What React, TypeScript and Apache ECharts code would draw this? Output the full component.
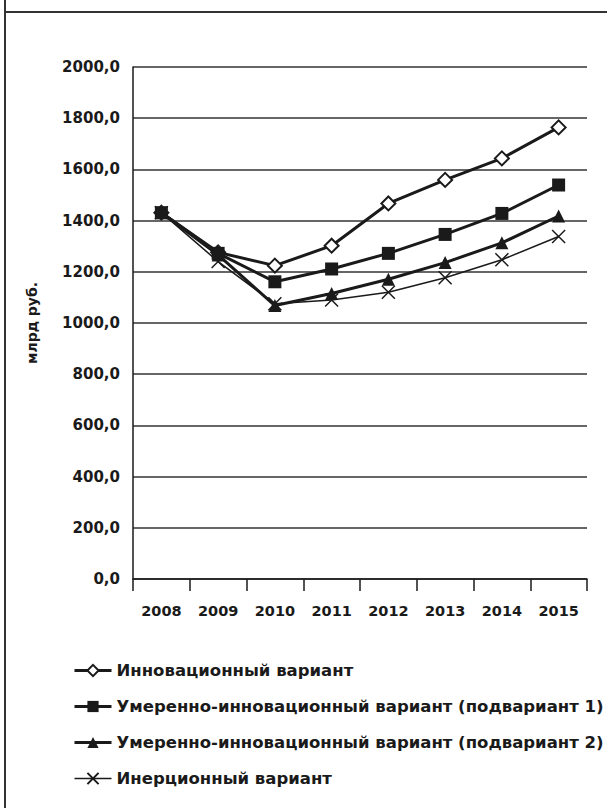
import React, { useEffect, useRef } from "react";
import * as echarts from "echarts";

const years = ["2008", "2009", "2010", "2011", "2012", "2013", "2014", "2015"];
const innovative = [1431, 1276, 1224, 1302, 1467, 1559, 1643, 1764];
const moderate1 = [1431, 1272, 1161, 1211, 1272, 1346, 1428, 1539];
const moderate2 = [1431, 1266, 1068, 1115, 1171, 1236, 1313, 1418];
const inertial = [1431, 1240, 1075, 1090, 1120, 1177, 1247, 1338];
const seriesNames = [
  "Инновационный вариант",
  "Умеренно-инновационный вариант (подвариант 1)",
  "Умеренно-инновационный вариант (подвариант 2)",
  "Инерционный вариант",
];
const yAxisName = "млрд руб.";

const FONT = "DejaVu Sans";
const INK = "#1a1a1a";

export default function App() {
  const ref = useRef<HTMLDivElement>(null);
  useEffect(() => {
    if (!ref.current) return;
    const chart = echarts.init(ref.current, null, { renderer: "svg" });
    chart.setOption({
      animation: false,
      backgroundColor: "#fff",
      textStyle: { fontFamily: FONT },
      grid: { left: 133, right: 20, top: 67, bottom: 229, containLabel: false },
      graphic: [
        { type: "line", shape: { x1: 5, y1: 0, x2: 5, y2: 808 }, style: { stroke: "#333", lineWidth: 2 } },
        { type: "line", shape: { x1: 5, y1: 12, x2: 607, y2: 12 }, style: { stroke: "#333", lineWidth: 2 } },
      ],
      xAxis: {
        type: "category",
        data: years,
        boundaryGap: true,
        axisLine: { lineStyle: { color: INK, width: 1.5 } },
        axisTick: { show: true, length: 12, inside: false, lineStyle: { color: INK, width: 1.5 } },
        axisLabel: { color: INK, fontWeight: "bold", fontSize: 14.5, margin: 24, fontFamily: FONT },
      },
      yAxis: {
        type: "value",
        min: 0,
        max: 2000,
        interval: 200,
        name: yAxisName,
        nameLocation: "middle",
        nameGap: 94,
        nameRotate: 90,
        nameTextStyle: { color: INK, fontWeight: "bold", fontSize: 14, fontFamily: FONT },
        axisLine: { show: true, lineStyle: { color: INK, width: 1.5 } },
        axisTick: { show: false },
        splitLine: { show: true, lineStyle: { color: "#333", width: 1.5 } },
        axisLabel: {
          color: INK,
          fontWeight: "bold",
          fontSize: 15,
          margin: 13,
          fontFamily: FONT,
          formatter: (v: number) => v.toFixed(1).replace(".", ","),
        },
      },
      legend: {
        orient: "vertical",
        left: 68,
        top: 656,
        itemWidth: 37,
        itemHeight: 14,
        itemGap: 17,
        textStyle: { color: INK, fontWeight: "bold", fontSize: 16.5, lineHeight: 19, fontFamily: FONT },
        data: [
          { name: seriesNames[0], lineStyle: { width: 3, color: INK } },
          { name: seriesNames[1], lineStyle: { width: 3, color: INK } },
          { name: seriesNames[2], lineStyle: { width: 3, color: INK } },
          { name: seriesNames[3], lineStyle: { width: 1.5, color: INK } },
        ],
      },
      series: [
        {
          name: seriesNames[0],
          type: "line",
          data: innovative,
          symbol: "diamond",
          symbolSize: 14,
          z: 2,
          lineStyle: { color: INK, width: 3 },
          itemStyle: { color: "#fff", borderColor: INK, borderWidth: 2 },
        },
        {
          name: seriesNames[1],
          type: "line",
          data: moderate1,
          symbol: "rect",
          symbolSize: 13,
          z: 5,
          lineStyle: { color: INK, width: 3 },
          itemStyle: { color: INK, borderColor: INK, borderWidth: 0 },
        },
        {
          name: seriesNames[2],
          type: "line",
          data: moderate2,
          symbol: "triangle",
          symbolSize: 13,
          z: 3,
          lineStyle: { color: INK, width: 3 },
          itemStyle: { color: INK, borderColor: INK, borderWidth: 0 },
        },
        {
          name: seriesNames[3],
          type: "line",
          data: inertial,
          symbol: "path://M0,0L10,10M10,0L0,10",
          symbolSize: 13,
          z: 2,
          lineStyle: { color: INK, width: 1.5 },
          itemStyle: { color: "none", borderColor: INK, borderWidth: 1.5 },
        },
      ],
    });
    return () => chart.dispose();
  }, []);
  return (
    <div
      ref={ref}
      style={{ position: "fixed", left: 0, top: 0, width: 607, height: 808, background: "#fff" }}
    />
  );
}
